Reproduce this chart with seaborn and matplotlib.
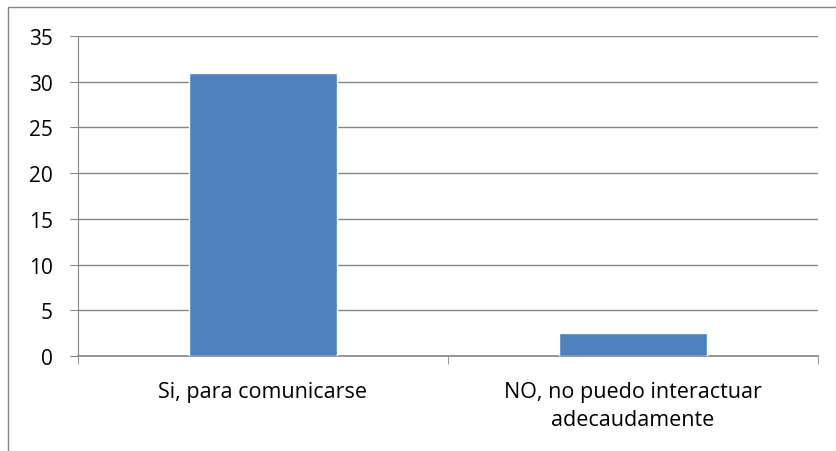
import matplotlib
matplotlib.use("Agg")
import matplotlib.pyplot as plt
import seaborn as sns
import pandas as pd
from matplotlib.patches import Rectangle

# Chart data
categories = ["Si, para comunicarse", "NO, no puedo interactuar\nadecaudamente"]
values = [31, 2.5]

df = pd.DataFrame({"respuesta": categories, "cantidad": values})

sns.set_style("white")
plt.rcParams["font.family"] = ["Open Sans", "DejaVu Sans"]
plt.rcParams["xtick.labelcolor"] = "black"
plt.rcParams["ytick.labelcolor"] = "black"

fig = plt.figure(figsize=(8.37, 4.52), dpi=100)
ax = fig.add_axes([78 / 837, 1 - 357 / 452, 740 / 837, 320 / 452])

# outer chart border (cut off on the right and bottom)
fig.patches.append(Rectangle((8 / 837, -0.2), 1.2, 1.2 - 8 / 452, transform=fig.transFigure,
                             fill=False, edgecolor="#868686", linewidth=1.0))

sns.barplot(data=df, x="respuesta", y="cantidad", color="#4F81BD", width=0.4,
            saturation=1, ax=ax, zorder=3)

ax.set_ylim(0, 35)
ax.set_yticks(range(0, 36, 5))
ax.set_xlim(-0.5, 1.5)
ax.yaxis.grid(True, color="#868686", linewidth=1.0)
ax.set_axisbelow(True)
for side in ["top", "right"]:
    ax.spines[side].set_visible(False)
ax.spines["left"].set_color("#868686")
ax.spines["bottom"].set_color("#868686")
ax.spines["bottom"].set_linewidth(1.2)

ax.set_xlabel("")
ax.set_ylabel("")
ax.tick_params(axis="y", length=6, color="#868686", labelsize=15, pad=12, left=True,
               labelcolor="black")
ax.tick_params(axis="x", length=0, labelsize=15.5, pad=18, labelcolor="black")
for lbl in ax.get_xticklabels():
    lbl.set_linespacing(1.45)
ax.set_xticks([-0.5, 0.5, 1.5], minor=True)
ax.tick_params(axis="x", which="minor", length=6, color="#868686", bottom=True)

plt.savefig("out.png", dpi=100)
